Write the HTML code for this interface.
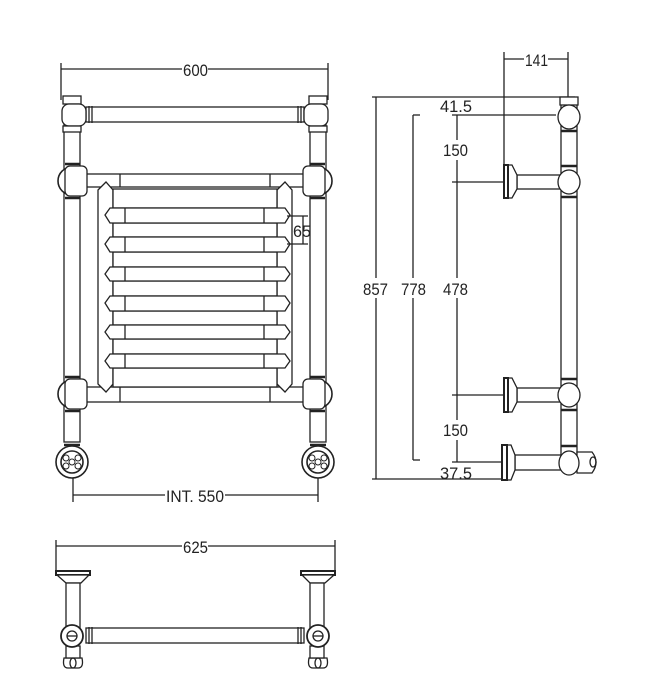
<!DOCTYPE html>
<html><head><meta charset="utf-8"><style>
html,body{margin:0;padding:0;background:#fff}
svg{display:block}
text{font-family:"Liberation Sans",sans-serif;font-size:17px;fill:#222}
</style></head><body>
<svg width="649" height="696" viewBox="0 0 649 696" xmlns="http://www.w3.org/2000/svg">
<g fill="none" stroke="#222" stroke-width="1.3">
<!-- 600 dim -->
<line x1="61" y1="63" x2="61" y2="100"/><line x1="328" y1="63" x2="328" y2="100"/>
<line x1="61" y1="69" x2="182" y2="69"/><line x1="208" y1="69" x2="328" y2="69"/>
<!-- posts -->
<rect x="64" y="122" width="16" height="320" fill="#fff"/>
<rect x="310" y="122" width="16" height="320" fill="#fff"/>
<!-- top rail -->
<rect x="86" y="107" width="218" height="15" fill="#fff"/>
<line x1="89" y1="106" x2="89" y2="123"/><line x1="92" y1="106" x2="92" y2="123"/>
<line x1="298" y1="106" x2="298" y2="123"/><line x1="301" y1="106" x2="301" y2="123"/>
<rect x="63" y="96" width="18" height="8" fill="#fff"/><rect x="309" y="96" width="18" height="8" fill="#fff"/>
<rect x="62" y="104" width="24" height="22" rx="7" fill="#fff"/><rect x="304" y="104" width="24" height="22" rx="7" fill="#fff"/>
<rect x="63" y="126" width="18" height="6" fill="#fff"/><rect x="309" y="126" width="18" height="6" fill="#fff"/>
<!-- frame bars -->
<rect x="86" y="174" width="218" height="13" fill="#fff"/>
<rect x="86" y="387" width="218" height="15" fill="#fff"/>
<line x1="120" y1="174" x2="120" y2="187"/><line x1="270" y1="174" x2="270" y2="187"/>
<line x1="120" y1="387" x2="120" y2="402"/><line x1="270" y1="387" x2="270" y2="402"/>
<!-- stiles -->
<polygon points="98,190 106,182 113,190 113,384 106,392 98,384" fill="#fff"/>
<polygon points="277,190 285,182 292,190 292,384 285,392 277,384" fill="#fff"/>
<!-- horizontal bars -->
<rect x="113" y="189" width="164" height="19" fill="#fff"/>
<rect x="113" y="223" width="164" height="14" fill="#fff"/>
<rect x="113" y="252" width="164" height="15" fill="#fff"/>
<rect x="113" y="281" width="164" height="15" fill="#fff"/>
<rect x="113" y="311" width="164" height="14" fill="#fff"/>
<rect x="113" y="339" width="164" height="15" fill="#fff"/>
<rect x="113" y="368" width="164" height="19" fill="#fff"/>
<g fill="#fff">
<polygon points="105,215 110,208 285,208 290,215 285,223 110,223"/>
<polygon points="105,244 110,237 285,237 290,244 285,252 110,252"/>
<polygon points="105,274 110,267 285,267 290,274 285,281 110,281"/>
<polygon points="105,303 110,296 285,296 290,303 285,311 110,311"/>
<polygon points="105,332 110,325 285,325 290,332 285,339 110,339"/>
<polygon points="105,361 110,354 285,354 290,361 285,368 110,368"/>
</g>
<g>
<line x1="125" y1="208" x2="125" y2="223"/><line x1="264" y1="208" x2="264" y2="223"/>
<line x1="125" y1="237" x2="125" y2="252"/><line x1="264" y1="237" x2="264" y2="252"/>
<line x1="125" y1="267" x2="125" y2="281"/><line x1="264" y1="267" x2="264" y2="281"/>
<line x1="125" y1="296" x2="125" y2="311"/><line x1="264" y1="296" x2="264" y2="311"/>
<line x1="125" y1="325" x2="125" y2="339"/><line x1="264" y1="325" x2="264" y2="339"/>
<line x1="125" y1="354" x2="125" y2="368"/><line x1="264" y1="354" x2="264" y2="368"/>
</g>
<!-- ball joints -->
<g fill="#fff" stroke-width="1.6">
<circle cx="72" cy="181" r="14"/><circle cx="318" cy="181" r="14"/>
<circle cx="72" cy="394" r="14"/><circle cx="318" cy="394" r="14"/>
</g>
<rect x="65" y="166" width="22" height="30" rx="5" fill="#fff"/><rect x="303" y="166" width="22" height="30" rx="5" fill="#fff"/>
<rect x="65" y="379" width="22" height="30" rx="5" fill="#fff"/><rect x="303" y="379" width="22" height="30" rx="5" fill="#fff"/>
<line x1="65" y1="198" x2="80" y2="198" stroke-width="2.5"/><line x1="310" y1="198" x2="325" y2="198" stroke-width="2.5"/>
<line x1="65" y1="411" x2="80" y2="411" stroke-width="2.5"/><line x1="310" y1="411" x2="325" y2="411" stroke-width="2.5"/>
<line x1="65" y1="164" x2="80" y2="164" stroke-width="2.5"/><line x1="310" y1="164" x2="325" y2="164" stroke-width="2.5"/>
<line x1="65" y1="377" x2="80" y2="377" stroke-width="2.5"/><line x1="310" y1="377" x2="325" y2="377" stroke-width="2.5"/>
<!-- feet -->
<g fill="#fff" stroke-width="1.6">
<circle cx="72" cy="462" r="16"/><circle cx="318" cy="462" r="16"/>
<circle cx="72" cy="462" r="11"/><circle cx="318" cy="462" r="11"/>
</g>
<g stroke-width="1">
<circle cx="72" cy="462" r="3"/><circle cx="66" cy="458" r="3"/><circle cx="78" cy="458" r="3"/><circle cx="66" cy="466" r="3"/><circle cx="78" cy="466" r="3"/>
<circle cx="318" cy="462" r="3"/><circle cx="312" cy="458" r="3"/><circle cx="324" cy="458" r="3"/><circle cx="312" cy="466" r="3"/><circle cx="324" cy="466" r="3"/>
</g>
<line x1="64" y1="445" x2="80" y2="445" stroke-width="2.5"/><line x1="310" y1="445" x2="326" y2="445" stroke-width="2.5"/>
<!-- 65 dim -->
<line x1="287" y1="216" x2="308" y2="216"/><line x1="287" y1="244" x2="308" y2="244"/>
<line x1="303" y1="216" x2="303" y2="244"/>
<!-- INT 550 -->
<line x1="73" y1="478" x2="73" y2="502"/><line x1="318" y1="478" x2="318" y2="502"/>
<line x1="73" y1="495" x2="165" y2="495"/><line x1="225" y1="495" x2="318" y2="495"/>

<!-- SIDE VIEW -->
<line x1="504" y1="52" x2="504" y2="182"/><line x1="568" y1="52" x2="568" y2="97"/>
<line x1="504" y1="59" x2="524" y2="59"/><line x1="548" y1="59" x2="568" y2="59"/>
<line x1="372" y1="97" x2="575" y2="97"/><line x1="372" y1="479" x2="504" y2="479"/>
<line x1="376" y1="97" x2="376" y2="278"/><line x1="376" y1="298" x2="376" y2="479"/>
<line x1="413" y1="115" x2="420" y2="115"/><line x1="413" y1="460" x2="420" y2="460"/>
<line x1="413" y1="115" x2="413" y2="278"/><line x1="413" y1="298" x2="413" y2="460"/>
<line x1="452" y1="115" x2="556" y2="115"/>
<line x1="457" y1="115" x2="457" y2="140"/><line x1="457" y1="160" x2="457" y2="278"/>
<line x1="457" y1="298" x2="457" y2="420"/><line x1="457" y1="440" x2="457" y2="462"/>
<line x1="452" y1="182" x2="504" y2="182"/><line x1="452" y1="395" x2="504" y2="395"/>
<line x1="452" y1="462" x2="502" y2="462"/>
<!-- side post -->
<rect x="561" y="100" width="16" height="355" fill="#fff"/>
<rect x="560" y="97" width="18" height="8" fill="#fff"/>
<ellipse cx="569" cy="117" rx="11" ry="12" fill="#fff"/>
<line x1="561" y1="131" x2="577" y2="131" stroke-width="2.5"/>
<line x1="561" y1="166" x2="577" y2="166" stroke-width="2.5"/>
<line x1="561" y1="197" x2="577" y2="197" stroke-width="2.5"/>
<line x1="561" y1="379" x2="577" y2="379" stroke-width="2.5"/>
<line x1="561" y1="410" x2="577" y2="410" stroke-width="2.5"/>
<line x1="561" y1="446" x2="577" y2="446" stroke-width="2.5"/>
<!-- brackets -->
<g fill="#fff">
<rect x="517" y="175" width="44" height="14"/>
<polygon points="508,165 512,165 517,175 517,189 512,198 508,198"/>
<rect x="504" y="165" width="4" height="33" stroke-width="2"/>
<ellipse cx="569" cy="182" rx="11" ry="12"/>
<rect x="517" y="388" width="44" height="14"/>
<polygon points="508,378 512,378 517,388 517,402 512,412 508,412"/>
<rect x="504" y="378" width="4" height="34" stroke-width="2"/>
<ellipse cx="569" cy="395" rx="11" ry="12"/>
<rect x="515" y="455" width="46" height="15"/>
<polygon points="507,445 511,445 515,455 515,470 511,480 507,480"/>
<rect x="502" y="445" width="5" height="35" stroke-width="2"/>
<path d="M577,452 L592,452 Q600,462 592,473 L577,473 Z"/>
<ellipse cx="569" cy="463" rx="10" ry="12"/>
</g>
<ellipse cx="593" cy="462" rx="3" ry="5"/>

<!-- PLAN VIEW -->
<line x1="56" y1="540" x2="56" y2="570"/><line x1="335" y1="540" x2="335" y2="570"/>
<line x1="56" y1="546" x2="182" y2="546"/><line x1="208" y1="546" x2="335" y2="546"/>
<g fill="#fff">
<rect x="56" y="571" width="34" height="4" stroke-width="2"/>
<polygon points="57,575 89,575 81,583 66,583"/>
<rect x="66" y="583" width="14" height="46"/>
<rect x="301" y="571" width="34" height="4" stroke-width="2"/>
<polygon points="302,575 334,575 325,583 310,583"/>
<rect x="310" y="583" width="14" height="46"/>
<rect x="86" y="628" width="218" height="15"/>
<path d="M64,658 L82,658 Q84,668 78,668 L68,668 Q62,668 64,658 Z"/>
<path d="M309,658 L327,658 Q329,668 323,668 L313,668 Q307,668 309,658 Z"/>
<rect x="66" y="646" width="14" height="12"/><rect x="310" y="646" width="14" height="12"/>
<circle cx="72" cy="636" r="11" stroke-width="1.8"/><circle cx="318" cy="636" r="11" stroke-width="1.8"/>
<circle cx="72" cy="636" r="5"/><circle cx="318" cy="636" r="5"/>
</g>
<line x1="67" y1="636" x2="77" y2="636"/><line x1="313" y1="636" x2="323" y2="636"/>
<line x1="89" y1="627" x2="89" y2="644"/><line x1="92" y1="627" x2="92" y2="644"/>
<line x1="298" y1="627" x2="298" y2="644"/><line x1="301" y1="627" x2="301" y2="644"/>
<ellipse cx="73" cy="663" rx="3" ry="5"/><ellipse cx="318" cy="663" rx="3" ry="5"/>
</g>
<text x="183" y="76" textLength="25" lengthAdjust="spacingAndGlyphs">600</text>
<text x="293" y="237" textLength="18" lengthAdjust="spacingAndGlyphs">65</text>
<text x="166" y="502" textLength="58" lengthAdjust="spacingAndGlyphs">INT. 550</text>
<text x="525" y="66" textLength="23" lengthAdjust="spacingAndGlyphs">141</text>
<text x="440" y="112" textLength="32" lengthAdjust="spacingAndGlyphs">41.5</text>
<text x="443" y="156" textLength="25" lengthAdjust="spacingAndGlyphs">150</text>
<text x="363" y="295" textLength="25" lengthAdjust="spacingAndGlyphs">857</text>
<text x="401" y="295" textLength="25" lengthAdjust="spacingAndGlyphs">778</text>
<text x="443" y="295" textLength="25" lengthAdjust="spacingAndGlyphs">478</text>
<text x="443" y="436" textLength="25" lengthAdjust="spacingAndGlyphs">150</text>
<text x="440" y="479" textLength="32" lengthAdjust="spacingAndGlyphs">37.5</text>
<text x="183" y="553" textLength="25" lengthAdjust="spacingAndGlyphs">625</text>
</svg>
</body></html>
